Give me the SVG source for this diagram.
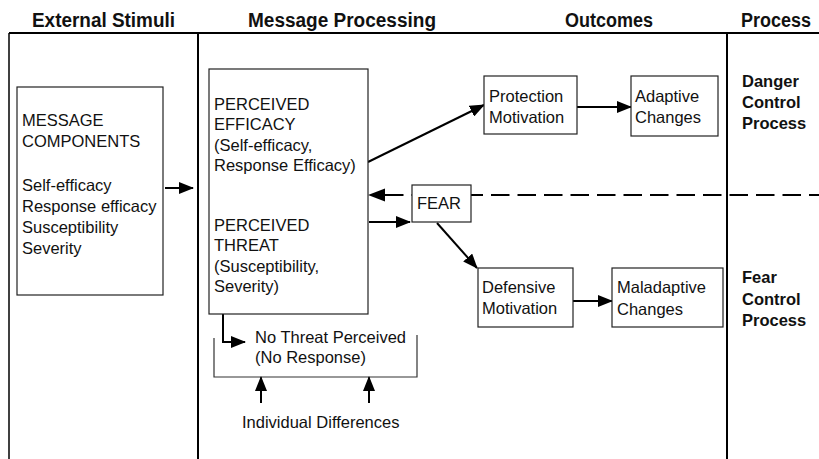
<svg xmlns="http://www.w3.org/2000/svg" width="819" height="459" viewBox="0 0 819 459">
<style>
text{font-family:"Liberation Sans",Arial,sans-serif;font-size:16.5px;fill:#111}
.h{font-weight:bold;font-size:20px}
.b{font-weight:bold}
.box{fill:#fff;stroke:#222;stroke-width:1.2}
.col{stroke:#000;stroke-width:2;fill:none}
.c{stroke:#000;stroke-width:2;fill:none}
.ah{fill:#000}
</style>
<defs>
<marker id="arr" markerUnits="userSpaceOnUse" viewBox="0 0 15 12" markerWidth="15" markerHeight="12" refX="14" refY="6" orient="auto">
<path d="M0,0 L15,6 L0,12 z" fill="#000"/>
</marker>
</defs>
<g id="frame">
<text class="h" x="32" y="27" textLength="143" lengthAdjust="spacingAndGlyphs">External Stimuli</text>
<text class="h" x="248" y="27" textLength="188" lengthAdjust="spacingAndGlyphs">Message Processing</text>
<text class="h" x="565" y="27" textLength="88" lengthAdjust="spacingAndGlyphs">Outcomes</text>
<text class="h" x="741" y="27" textLength="70" lengthAdjust="spacingAndGlyphs">Process</text>
<line class="col" x1="9" y1="33" x2="819" y2="33"/>
<line x1="9" y1="33" x2="9" y2="459" stroke="#000" stroke-width="1.5"/>
<line class="col" x1="198" y1="33" x2="198" y2="459"/>
<line class="col" x1="727" y1="33" x2="727" y2="459"/>
</g>
<g id="connectors">
<line class="c" x1="165" y1="188" x2="193" y2="188" marker-end="url(#arr)"/>
<line class="c" x1="368" y1="162" x2="484" y2="105" marker-end="url(#arr)"/>
<line class="c" x1="577" y1="107" x2="631" y2="107" marker-end="url(#arr)"/>
<line class="c" x1="369" y1="222" x2="410" y2="222" marker-end="url(#arr)"/>
<path d="M385,195 H819" stroke="#000" stroke-width="2.2" stroke-dasharray="18.5 8" fill="none"/>
<path class="ah" d="M368,195 L385,188.5 L385,201.5 z"/>
<line class="c" x1="437" y1="223" x2="477" y2="268" marker-end="url(#arr)"/>
<line class="c" x1="573" y1="301" x2="612" y2="301" marker-end="url(#arr)"/>
<path class="c" d="M223,314 V342 H245" marker-end="url(#arr)"/>
<line class="c" x1="261" y1="403" x2="261" y2="377" marker-end="url(#arr)"/>
<line class="c" x1="369" y1="403" x2="369" y2="377" marker-end="url(#arr)"/>
</g>
<g id="message-components">
<rect class="box" x="17" y="87" width="146" height="208"/>
<text x="22" y="126">MESSAGE</text>
<text x="22" y="147">COMPONENTS</text>
<text x="22" y="191">Self-efficacy</text>
<text x="22" y="212">Response efficacy</text>
<text x="22" y="233">Susceptibility</text>
<text x="22" y="254">Severity</text>
</g>
<g id="perceived">
<rect class="box" x="209" y="69" width="159" height="245"/>
<text x="214" y="110">PERCEIVED</text>
<text x="214" y="130">EFFICACY</text>
<text x="214" y="151">(Self-efficacy,</text>
<text x="214" y="171">Response Efficacy)</text>
<text x="214" y="231">PERCEIVED</text>
<text x="214" y="251">THREAT</text>
<text x="214" y="272">(Susceptibility,</text>
<text x="214" y="292">Severity)</text>
</g>
<g id="no-threat">
<path d="M214,338 V377 H417 V335" fill="none" stroke="#333" stroke-width="1.2"/>
<text x="255" y="343">No Threat Perceived</text>
<text x="255" y="363">(No Response)</text>
</g>
<g id="individual-differences">
<text x="242" y="428">Individual Differences</text>
</g>
<g id="fear">
<rect class="box" x="412" y="185" width="59" height="37"/>
<text x="417" y="209">FEAR</text>
</g>
<g id="protection-motivation">
<rect class="box" x="484" y="76" width="93" height="58"/>
<text x="489" y="102">Protection</text>
<text x="489" y="123">Motivation</text>
</g>
<g id="adaptive-changes">
<rect class="box" x="631" y="76" width="87" height="60"/>
<text x="635" y="102">Adaptive</text>
<text x="635" y="123">Changes</text>
</g>
<g id="defensive-motivation">
<rect class="box" x="478" y="268" width="95" height="59"/>
<text x="482" y="293">Defensive</text>
<text x="482" y="314">Motivation</text>
</g>
<g id="maladaptive-changes">
<rect class="box" x="612" y="268" width="111" height="59"/>
<text x="617" y="293">Maladaptive</text>
<text x="617" y="315">Changes</text>
</g>
<g id="danger-label">
<text class="b" x="742" y="87">Danger</text>
<text class="b" x="742" y="108">Control</text>
<text class="b" x="742" y="129">Process</text>
</g>
<g id="fear-label">
<text class="b" x="742" y="283">Fear</text>
<text class="b" x="742" y="305">Control</text>
<text class="b" x="742" y="326">Process</text>
</g>
</svg>
